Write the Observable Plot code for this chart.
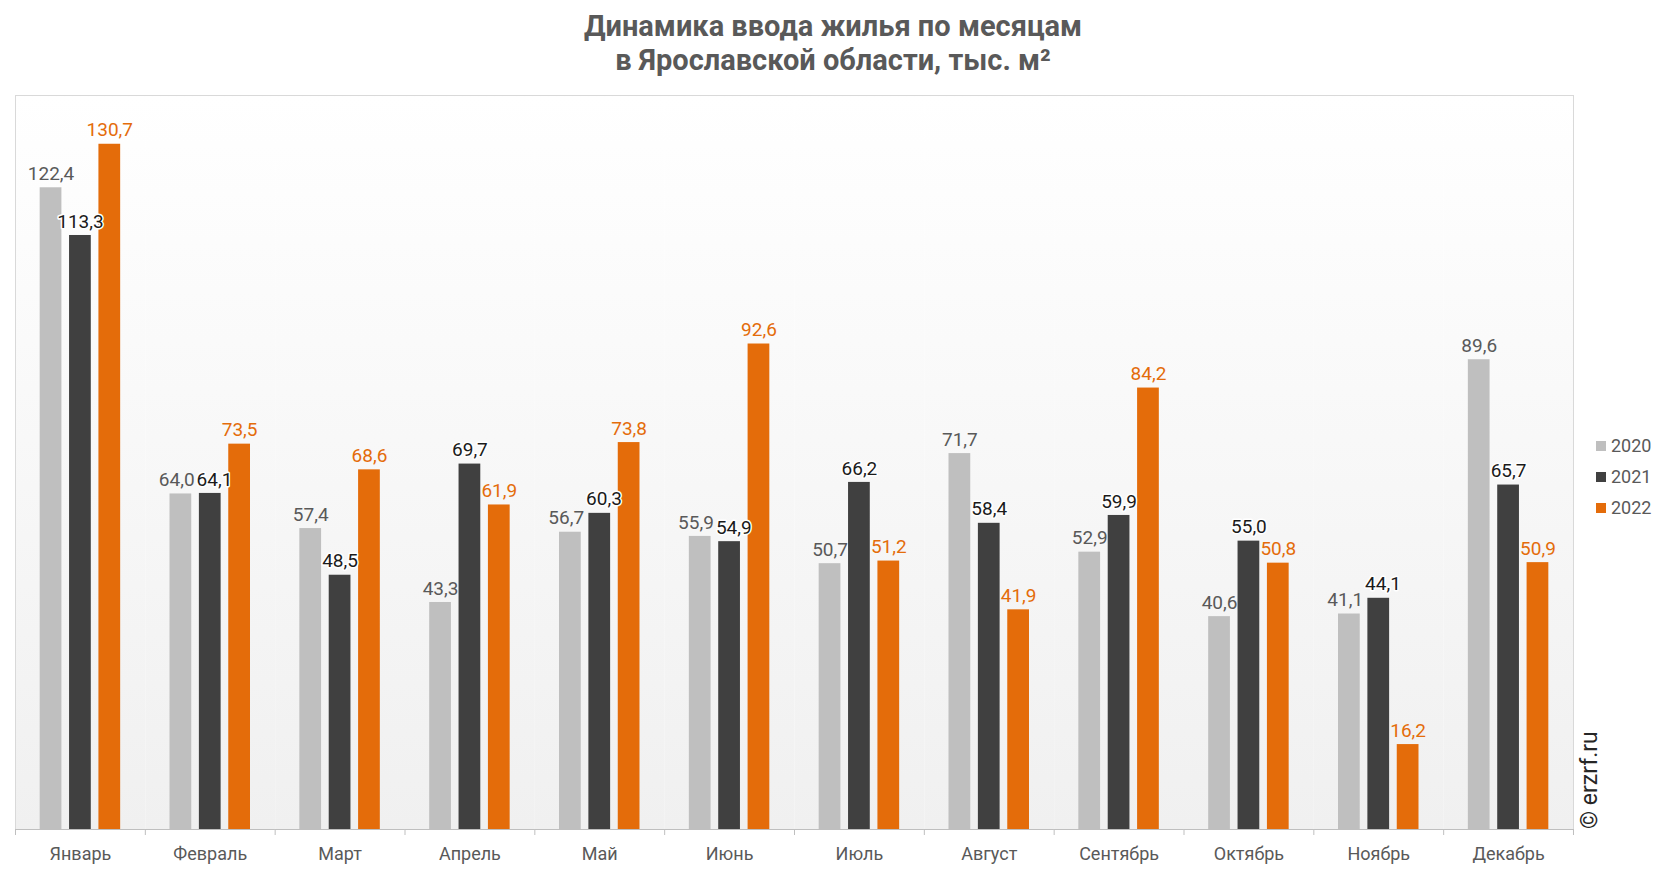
<!DOCTYPE html>
<html>
<head>
<meta charset="utf-8">
<script src="https://cdn.jsdelivr.net/npm/d3@7"></script>
<script src="https://cdn.jsdelivr.net/npm/@observablehq/plot@0.6"></script>
<style>
  html, body { margin: 0; padding: 0; background: #fff; }
  body { width: 1666px; height: 872px; position: relative; overflow: hidden; font-family: Roboto, sans-serif; }
  #title { text-align: center; font-weight: bold; font-size: 29px; line-height: 34px; color: #595959; padding-top: 9px; height: 72px; box-sizing: content-box; }
  #legend { position: absolute; left: 1596px; top: 430px; font-size: 18px; color: #595959; }
  #legend .item { height: 31px; display: flex; align-items: center; }
  #legend .sw { width: 10px; height: 10px; margin-right: 5px; }
  #credit { position: absolute; left: 1577px; top: 829px; transform-origin: 0 0; transform: rotate(-90deg); font-size: 23px; color: #262626; white-space: nowrap; line-height: 26px; }
</style>
</head>
<body>
<div id="title">Динамика ввода жилья по месяцам<br>в Ярославской области, тыс. м²</div>
<div id="chart"></div>
<div id="legend"></div>
<div id="credit">© erzrf.ru</div>
<script>
const months = ["Январь", "Февраль", "Март", "Апрель", "Май", "Июнь", "Июль", "Август", "Сентябрь", "Октябрь", "Ноябрь", "Декабрь"];
const years = ["2020", "2021", "2022"];
const v2020 = [122.4, 64.0, 57.4, 43.3, 56.7, 55.9, 50.7, 71.7, 52.9, 40.6, 41.1, 89.6];
const v2021 = [113.3, 64.1, 48.5, 69.7, 60.3, 54.9, 66.2, 58.4, 59.9, 55.0, 44.1, 65.7];
const v2022 = [130.7, 73.5, 68.6, 61.9, 73.8, 92.6, 51.2, 41.9, 84.2, 50.8, 16.2, 50.9];
const series = [v2020, v2021, v2022];
const barColors = {"2020": "#bfbfbf", "2021": "#404040", "2022": "#e46c0a"};
const labelColors = {"2020": "#595959", "2021": "#1a1a1a", "2022": "#e46c0a"};

const W = 1666, H = 791, mT = 14, mB = 43, mL = 15, mR = 93;
const yMax = 140;
const padIn = 0.26, padOut = 0.84;
const facetStep = (W - mL - mR) / months.length;
const barStep = facetStep / (years.length - padIn + 2 * padOut);
const pxPerUnit = (H - mT - mB) / yMax;
const fontSize = 19;

// rows; labels of neighbouring bars with nearly equal heights are pushed apart
const rows = months.flatMap((m, i) => years.map((y, j) => {
  const v = series[j][i];
  const prev = j > 0 ? series[j - 1][i] : null;
  const next = j < years.length - 1 ? series[j + 1][i] : null;
  let side = "center";
  if (next != null && Math.abs(next - v) * pxPerUnit < fontSize) side = "left";
  else if (prev != null && Math.abs(prev - v) * pxPerUnit < fontSize) side = "right";
  return {month: m, year: y, value: v, side};
}));
const fmt = d => d.value.toFixed(1).replace(".", ",");

const marks = [
  Plot.frame({fill: "url(#bg)"}),
  Plot.frame({stroke: "#d9d9d9", facet: "super"}),
];
for (const y of years) {
  const sub = rows.filter(d => d.year === y);
  marks.push(Plot.barY(sub, {fx: "month", x: "year", y: "value", fill: barColors[y]}));
}
const sideOpts = {
  center: {textAnchor: "middle", dx: 0},
  left: {textAnchor: "end", dx: barStep / 2 - 1},
  right: {textAnchor: "start", dx: -barStep / 2 + 1}
};
for (const y of years) {
  for (const s of Object.keys(sideOpts)) {
    const sub = rows.filter(d => d.year === y && d.side === s);
    if (!sub.length) continue;
    marks.push(Plot.text(sub, {
      fx: "month", x: "year", y: "value", text: fmt, dy: -14, fontSize,
      ...sideOpts[s],
      fill: labelColors[y],
      stroke: y === "2021" ? "white" : null, strokeWidth: y === "2021" ? 3 : null
    }));
  }
}
marks.push(
  Plot.ruleY([0], {stroke: "#bfbfbf", strokeWidth: 1.2}),
  Plot.axisFx({anchor: "bottom", tickSize: 6, tickFormat: () => "", dx: -facetStep / 2, color: "#bfbfbf"}),
  Plot.axisFx({anchor: "bottom", ticks: [months[months.length - 1]], tickSize: 6, tickFormat: () => "", dx: facetStep / 2, color: "#bfbfbf"}),
  Plot.axisFx({anchor: "bottom", tickSize: 0, tickPadding: 18, fontSize: 18, color: "#595959"})
);

const chart = Plot.plot({
  width: W, height: H,
  marginTop: mT, marginBottom: mB, marginLeft: mL, marginRight: mR,
  fx: {domain: months, padding: 0, round: false, axis: null, label: null},
  x: {domain: years, paddingInner: padIn, paddingOuter: padOut, round: false, axis: null},
  y: {domain: [0, yMax], axis: null},
  style: {fontFamily: "Roboto, sans-serif", fontSize: "18px", background: "transparent", overflow: "visible"},
  marks
});

const svg = d3.select(chart.tagName.toLowerCase() === "svg" ? chart : chart.querySelector("svg"));
const grad = svg.insert("defs", ":first-child").append("linearGradient")
  .attr("id", "bg").attr("x1", 0).attr("y1", 0).attr("x2", 0).attr("y2", 1);
grad.append("stop").attr("offset", 0).attr("stop-color", "#ffffff");
grad.append("stop").attr("offset", 1).attr("stop-color", "#f0f0f0");

document.getElementById("chart").appendChild(chart);

const legend = d3.select("#legend");
for (const y of years) {
  const it = legend.append("div").attr("class", "item");
  it.append("div").attr("class", "sw").style("background", barColors[y]);
  it.append("span").text(y);
}
</script>
</body>
</html>
